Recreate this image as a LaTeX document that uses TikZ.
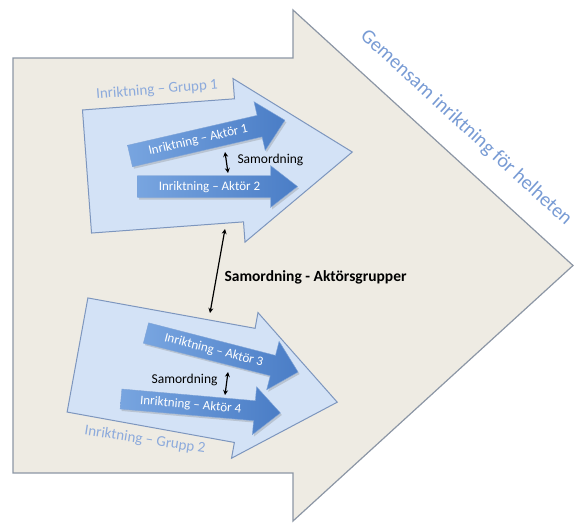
\documentclass[tikz,border=0pt]{standalone}
\usepackage{fontspec}
\setmainfont{Carlito}
\usetikzlibrary{arrows.meta,shadows}
\usepackage{xcolor}
\definecolor{bigfill}{RGB}{238,235,227}
\definecolor{bigline}{RGB}{140,150,165}
\definecolor{groupfill}{RGB}{211,226,246}
\definecolor{groupline}{RGB}{125,150,190}
\definecolor{aktlight}{RGB}{120,165,224}
\definecolor{aktdark}{RGB}{74,125,198}
\definecolor{labelblue}{RGB}{140,170,220}
\definecolor{gemblue}{RGB}{120,155,212}

% block arrow: length, half body, half head, head length
\newcommand{\blockarrow}[4]{(0,-#2) -- (#1-#4,-#2) -- (#1-#4,-#3) -- (#1,0) -- (#1-#4,#3) -- (#1-#4,#2) -- (0,#2) -- cycle}

\tikzset{
  bigarrow/.style={fill=bigfill, draw=bigline, line width=1.2pt},
  grouparrow/.style={fill=groupfill, draw=groupline, line width=1pt},
  aktarrow/.style={left color=aktlight, right color=aktdark, draw=aktdark!70, line width=0.4pt,
    drop shadow={opacity=0.3, shadow xshift=1.5pt, shadow yshift=-2pt}},
  akttext/.style={text=white, font=\fontsize{13}{15}\selectfont, transform shape},
  grouptext/.style={text=labelblue, font=\fontsize{15}{17}\selectfont},
  samtext/.style={font=\fontsize{13.5}{16}\selectfont},
  sam/.style={{Stealth[length=5pt,width=5pt]}-{Stealth[length=5pt,width=5pt]}, line width=1.2pt}
}

\begin{document}
\begin{tikzpicture}[x=1pt, y=-1pt]
    \useasboundingbox (0,0) rectangle (576,523);
    % shared direction
    \begin{scope}[shift={(13,265.5)}]
        \draw[bigarrow] \blockarrow{560}{207.5}{255.5}{280};
    \end{scope}
    \node[text=gemblue, font=\fontsize{20}{24}\selectfont, rotate=-42.5] (common) at (466,128) {Gemensam inriktning för helheten};

    % groups
    \begin{scope}[shift={(87,171.5)}, rotate=4.2]
        \draw[grouparrow] \blockarrow{266}{61.7}{82}{113.6};
    \end{scope}
    \begin{scope}[shift={(77.5,355)}, rotate=-10.3]
        \draw[grouparrow] \blockarrow{264}{58}{74}{94};
    \end{scope}
    \node[grouptext, rotate=4.5] (grp1) at (157,90) {Inriktning – Grupp 1};
    \node[grouptext, rotate=-8.7] (grp2) at (145,440) {Inriktning – Grupp 2};

    % actors
    \begin{scope}[shift={(130,156)}, rotate=13]
        \draw[aktarrow] \blockarrow{159}{11}{25}{26};
        \node[akttext] (akt1) at (70,0) {Inriktning – Aktör 1};
    \end{scope}
    \begin{scope}[shift={(137.5,186.5)}]
        \draw[aktarrow] \blockarrow{160}{11}{21}{27};
        \node[akttext] (akt2) at (72,1) {Inriktning – Aktör 2};
    \end{scope}
    \begin{scope}[shift={(146,333)}, rotate=-14.4]
        \draw[aktarrow] \blockarrow{157}{10.5}{25}{26};
        \node[akttext] (akt3) at (70,0) {Inriktning – Aktör 3};
    \end{scope}
    \begin{scope}[shift={(121,399)}, rotate=-5]
        \draw[aktarrow] \blockarrow{160}{10}{24}{26};
        \node[akttext] (akt4) at (70,0) {Inriktning – Aktör 4};
    \end{scope}

    % coordination
    \coordinate (g1s) at (225,229);
    \coordinate (g2n) at (210,313);
    \draw[sam] (g1s) -- (g2n);
    \node[samtext, font=\bfseries\fontsize{15.5}{18}\selectfont, anchor=west] (samgrp) at (221,277) {Samordning - Aktörsgrupper};

    \coordinate (s1a) at (225,152);
    \coordinate (s1b) at (228,173);
    \draw[sam] (s1a) -- (s1b);
    \node[samtext, anchor=west] (sam1) at (234,160) {Samordning};

    \coordinate (s2a) at (228,372);
    \coordinate (s2b) at (225,395);
    \draw[sam] (s2a) -- (s2b);
    \node[samtext, anchor=east] (sam2) at (221,380) {Samordning};
\end{tikzpicture}
\end{document}
